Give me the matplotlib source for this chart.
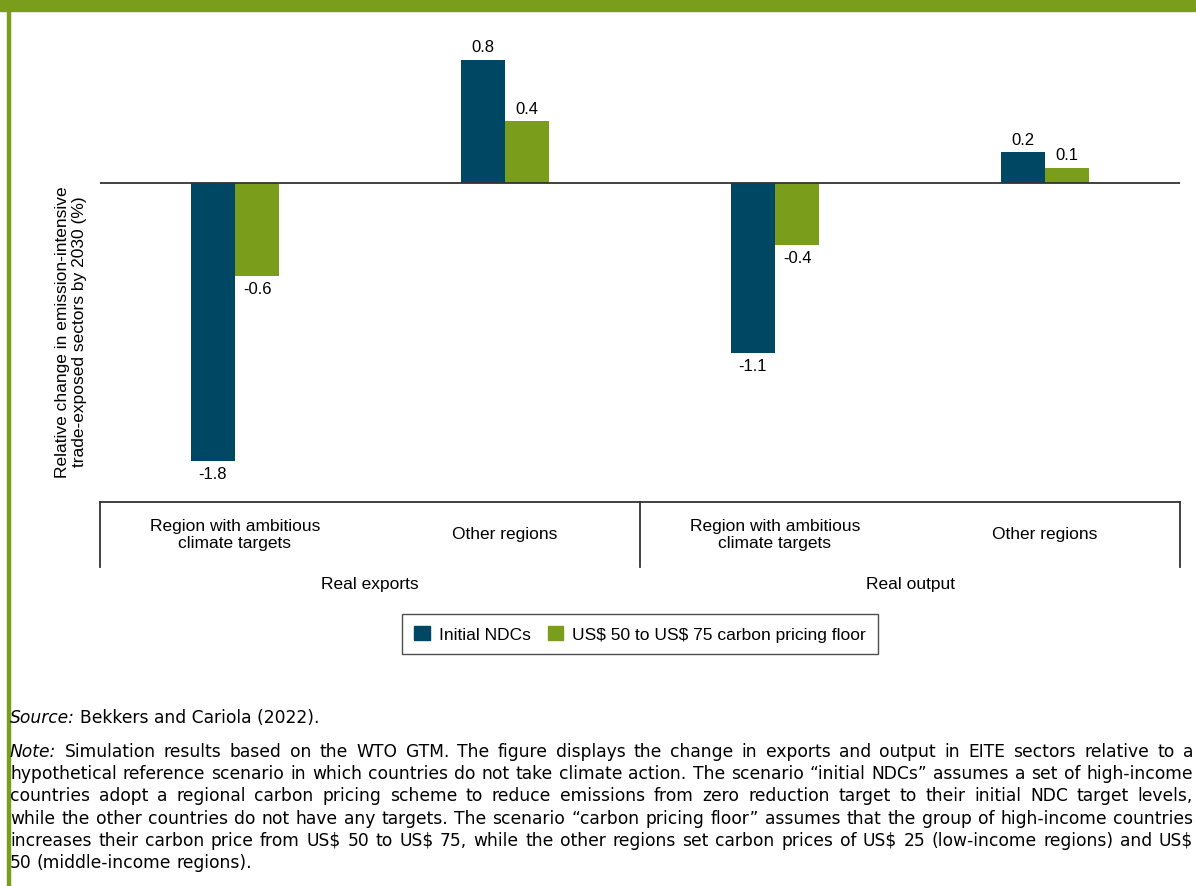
import numpy as np
import matplotlib.pyplot as plt
from matplotlib.patches import Patch

# data
categories = ['Region with ambitious\nclimate targets', 'Other regions',
              'Region with ambitious\nclimate targets', 'Other regions']
groups = ['Real exports', 'Real output']
initial_ndcs = [-1.8, 0.8, -1.1, 0.2]
pricing_floor = [-0.6, 0.4, -0.4, 0.1]
series_names = ['Initial NDCs', r'US\$ 50 to US\$ 75 carbon pricing floor']

source_text = 'Bekkers and Cariola (2022).'
note_lines = [
    'Simulation results based on the WTO GTM. The figure displays the change in exports and output in EITE sectors relative to a',
    'hypothetical reference scenario in which countries do not take climate action. The scenario \u201cinitial NDCs\u201d assumes a set of high-income',
    'countries adopt a regional carbon pricing scheme to reduce emissions from zero reduction target to their initial NDC target levels,',
    'while the other countries do not have any targets. The scenario \u201ccarbon pricing floor\u201d assumes that the group of high-income countries',
    'increases their carbon price from US$ 50 to US$ 75, while the other regions set carbon prices of US$ 25 (low-income regions) and US$',
    '50 (middle-income regions).',
]

BLUE = '#004763'
GREEN = '#7a9e1c'
W, H = 1196, 887

plt.rcParams['font.family'] = ['Liberation Sans', 'DejaVu Sans']

fig = plt.figure(figsize=(W / 100, H / 100), dpi=100)

# frame decoration: green banner on top, green rule on the left
fig.patches.append(plt.Rectangle((0, 1 - 12 / H), 1, 12 / H, transform=fig.transFigure,
                                 color=GREEN, zorder=0))
fig.patches.append(plt.Rectangle((7 / W, 0), 2.5 / W, 1, transform=fig.transFigure,
                                 color=GREEN, zorder=0))

ax_bottom = 492.8
ax = fig.add_axes([100 / W, 1 - ax_bottom / H, 1080 / W, 463 / H])
x = np.arange(len(categories))
w = 0.163
b1 = ax.bar(x - w / 2, initial_ndcs, w, color=BLUE)
b2 = ax.bar(x + w / 2, pricing_floor, w, color=GREEN)
ax.set_xlim(-0.5, 3.5)
ax.set_ylim(-2.0, 1.0)
ax.axhline(0, color='#333333', lw=1.3)
for s in ax.spines.values():
    s.set_visible(False)
ax.set_xticks([])
ax.set_yticks([])

for bars in (b1, b2):
    for r in bars:
        v = r.get_height()
        cx = r.get_x() + r.get_width() / 2
        if v >= 0:
            ax.annotate(f'{v:.1f}', (cx, v), xytext=(0, 4), textcoords='offset points',
                        ha='center', va='bottom', fontsize=12)
        else:
            ax.annotate(f'{v:.1f}', (cx, v), xytext=(0, -4), textcoords='offset points',
                        ha='center', va='top', fontsize=12)

# category box under the chart
def yfrac(p):
    return (ax_bottom - p) / 463

tr = ax.get_xaxis_transform()
ax.plot([-0.5, 3.5], [yfrac(503)] * 2, color='#333333', lw=1.3, transform=tr, clip_on=False)
for xv in (-0.5, 1.5, 3.5):
    ax.plot([xv, xv], [yfrac(503), yfrac(568)], color='#333333', lw=1.3,
            transform=tr, clip_on=False)
for i, c in enumerate(categories):
    ax.text(i, yfrac(535), c, transform=tr, ha='center', va='center', fontsize=12.5,
            linespacing=1.2)
for j, g in enumerate(groups):
    ax.text(0.5 + 2 * j, yfrac(585), g, transform=tr, ha='center', va='center', fontsize=12.5)

fig.text(71 / W, 1 - 332 / H,
         'Relative change in emission-intensive\ntrade-exposed sectors by 2030 (%)',
         rotation=90, ha='center', va='center', fontsize=12.5, linespacing=1.1)

handles = [Patch(color=BLUE), Patch(color=GREEN)]
leg = fig.legend(handles, series_names, loc='center', bbox_to_anchor=(640 / W, 1 - 635 / H),
                 ncol=2, frameon=True, fancybox=False, edgecolor='#222222', fontsize=12.5,
                 handlelength=0.9, handleheight=0.9, handletextpad=0.5, columnspacing=1.0,
                 borderpad=0.7)
leg.get_frame().set_linewidth(1.0)

# source and justified note
fs = 12.3
nf = ['DejaVu Sans']
t = fig.text(10 / W, 1 - 718 / H, 'Source:', style='italic', fontsize=fs, va='center', family=nf)
fig.canvas.draw()
rend = fig.canvas.get_renderer()
wx = t.get_window_extent(rend).x1
fig.text((wx + 5) / W, 1 - 718 / H, source_text, fontsize=fs, va='center', family=nf)

left, right = 10, 1193
y0, dy = 752, 22.2
for k, line in enumerate(note_lines):
    yy = 1 - (y0 + k * dy) / H
    words = line.split(' ')
    if k == 0:
        words = ['Note:'] + words
    texts = []
    for i, wd in enumerate(words):
        it = (k == 0 and i == 0)
        tt = fig.text(0, yy, wd, fontsize=fs, va='center', family=nf,
                      style='italic' if it else 'normal')
        texts.append(tt)
    widths = [tt.get_window_extent(rend).width for tt in texts]
    last = (k == len(note_lines) - 1)
    space = 5.0
    if not last and len(words) > 1:
        space = (right - left - sum(widths)) / (len(words) - 1)
    xx = left
    for tt, ww in zip(texts, widths):
        tt.set_x(xx / W)
        xx += ww + space

fig.savefig('out.png', dpi=100)
